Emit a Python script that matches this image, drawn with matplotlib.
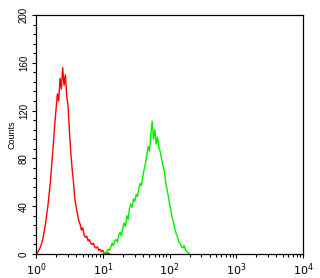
import numpy as np
import matplotlib
matplotlib.use("Agg")
import matplotlib.pyplot as plt
from matplotlib.ticker import FixedLocator, LogLocator, NullFormatter

plt.rcParams['font.family'] = ['Liberation Sans', 'DejaVu Sans']

# Histogram channels (log10 of fluorescence) and counts
red_log = [0.00, 0.02, 0.04, 0.06, 0.08, 0.10, 0.12, 0.14, 0.16, 0.18,
           0.20, 0.22, 0.24, 0.26, 0.28, 0.30, 0.32, 0.34, 0.36, 0.38,
           0.40, 0.42, 0.44, 0.46, 0.48, 0.50, 0.52, 0.54, 0.56, 0.58,
           0.60, 0.62, 0.64, 0.66, 0.68, 0.70, 0.72, 0.74, 0.76, 0.78,
           0.80, 0.82, 0.84, 0.86, 0.88, 0.90, 0.92, 0.94, 0.96, 0.98,
           1.00, 1.02, 1.04, 1.06, 1.08, 1.10]
red_counts = [0, 1, 3, 5, 8, 12, 18, 24, 33, 41,
              52, 63, 78, 92, 108, 121, 134, 128, 147, 138,
              156, 141, 150, 132, 124, 104, 86, 72, 61, 47,
              40, 34, 28, 25, 20, 22, 16, 14, 15, 11,
              12, 9, 8, 9, 6, 5, 6, 3, 4, 2,
              3, 1, 1, 0, 1, 0]

green_log = [1.00, 1.02, 1.04, 1.06, 1.08, 1.10, 1.12, 1.14, 1.16, 1.18,
             1.20, 1.22, 1.24, 1.26, 1.28, 1.30, 1.32, 1.34, 1.36, 1.38,
             1.40, 1.42, 1.44, 1.46, 1.48, 1.50, 1.52, 1.54, 1.56, 1.58,
             1.60, 1.62, 1.64, 1.66, 1.68, 1.70, 1.72, 1.74, 1.76, 1.78,
             1.80, 1.82, 1.84, 1.86, 1.88, 1.90, 1.92, 1.94, 1.96, 1.98,
             2.00, 2.02, 2.04, 2.06, 2.08, 2.10, 2.12, 2.14, 2.16, 2.18,
             2.20, 2.22, 2.24, 2.26, 2.28, 2.30]
green_counts = [0, 1, 0, 2, 4, 3, 6, 9, 7, 11,
                12, 10, 16, 18, 15, 22, 26, 23, 32, 29,
                38, 42, 39, 46, 44, 50, 48, 55, 59, 57,
                65, 71, 76, 83, 90, 86, 100, 111, 96, 104,
                92, 98, 89, 86, 80, 74, 70, 61, 55, 49,
                42, 37, 30, 27, 21, 17, 14, 10, 9, 6,
                5, 7, 3, 2, 1, 0]

y_ticks = [0, 40, 80, 120, 160, 200]
x_ticks = [1, 10, 100, 1000, 10000]
x_labels = [r'$10^0$', r'$10^1$', r'$10^2$', r'$10^3$', r'$10^4$']

fig = plt.figure(figsize=(3.2, 2.78), dpi=100)
ax = fig.add_axes([0.1125, 0.0863, 0.8345, 0.8597])

ax.plot(10 ** np.array(red_log), red_counts, color='#ff0000', lw=1.0)
ax.plot(10 ** np.array(green_log), green_counts, color='#00ee00', lw=1.0)

ax.set_xscale('log')
ax.set_xlim(1, 10000)
ax.set_ylim(0, 200)

ax.set_xticks(x_ticks)
ax.set_xticklabels(x_labels, fontsize=8)
ax.xaxis.set_minor_locator(LogLocator(base=10, subs=np.arange(2, 10)))
ax.xaxis.set_minor_formatter(NullFormatter())

ax.set_yticks(y_ticks)
ax.set_yticklabels([str(v) for v in y_ticks], fontsize=7, rotation=90, va='center')
ax.yaxis.set_minor_locator(FixedLocator(np.arange(0, 201, 8)))

ax.tick_params(axis='both', which='major', direction='out', length=3, width=0.8, pad=2)
ax.tick_params(axis='both', which='minor', direction='out', length=2, width=0.8)
ax.tick_params(top=False, right=False)

for s in ax.spines.values():
    s.set_linewidth(0.9)

ax.set_ylabel('Counts', fontsize=6.5, labelpad=2)

fig.savefig('out.png', dpi=100)
